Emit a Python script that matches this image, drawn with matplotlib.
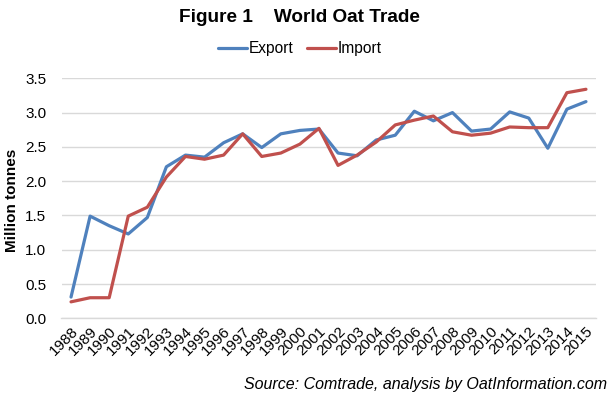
import matplotlib
matplotlib.use("Agg")
import matplotlib.pyplot as plt

years = [str(y) for y in range(1988, 2016)]
export = [0.31, 1.49, 1.35, 1.23, 1.47, 2.21, 2.38, 2.35, 2.56, 2.69, 2.49, 2.69, 2.74, 2.76,
          2.41, 2.37, 2.60, 2.67, 3.02, 2.88, 3.00, 2.73, 2.76, 3.01, 2.92, 2.48, 3.05, 3.16]
imports = [0.24, 0.30, 0.30, 1.49, 1.62, 2.06, 2.36, 2.32, 2.38, 2.69, 2.36, 2.41, 2.54, 2.77,
           2.23, 2.38, 2.57, 2.82, 2.89, 2.95, 2.72, 2.67, 2.70, 2.79, 2.78, 2.78, 3.29, 3.34]
yticks = [0.0, 0.5, 1.0, 1.5, 2.0, 2.5, 3.0, 3.5]

plt.rcParams['font.family'] = ['Liberation Sans', 'DejaVu Sans']

fig = plt.figure(figsize=(6.13, 3.96), dpi=100)
ax = fig.add_axes([61.5/613, (396-318.3)/396, 534/613, 240/396])

x = list(range(len(years)))
ax.plot(x, export, color='#4F81BD', lw=2.3, label='Export', solid_capstyle='round')
ax.plot(x, imports, color='#C0504D', lw=2.3, label='Import', solid_capstyle='round')

ax.set_xlim(-0.5, len(years) - 0.5)
ax.set_ylim(0, 3.5)
ax.set_yticks(yticks)
ax.set_yticklabels([f"{v:.1f}" for v in yticks], fontsize=11)
ax.set_xticks(x)
ax.set_xticklabels(years, fontsize=11, rotation=45, ha='right', va='top', rotation_mode='anchor')
ax.tick_params(axis='both', length=0, colors='#000000')
ax.tick_params(axis='y', pad=11)
ax.tick_params(axis='x', pad=4)
ax.grid(axis='y', color='#D9D9D9', lw=1)
ax.set_axisbelow(True)
for s in ['top', 'right', 'left']:
    ax.spines[s].set_visible(False)
ax.spines['bottom'].set_color('#D9D9D9')
ax.spines['bottom'].set_linewidth(1)

fig.text(12/613, 1 - 200/396, 'Million tonnes', fontsize=11, fontweight='bold',
         rotation=90, ha='center', va='center')

fig.text(299/613, 1 - 17/396, 'Figure 1    World Oat Trade', fontsize=13.7, fontweight='bold',
         ha='center', va='center')
leg = fig.legend(loc='center', bbox_to_anchor=(300/613, 1 - 49/396), ncol=2, frameon=False,
                 fontsize=11.2, handlelength=1.85, handletextpad=0.15, columnspacing=0.85,
                 borderpad=0, borderaxespad=0)
fig.text(607/613, 1 - 384/396, 'Source: Comtrade, analysis by OatInformation.com',
         fontsize=11.5, style='italic', ha='right', va='center')

fig.savefig('out.png', dpi=100)
